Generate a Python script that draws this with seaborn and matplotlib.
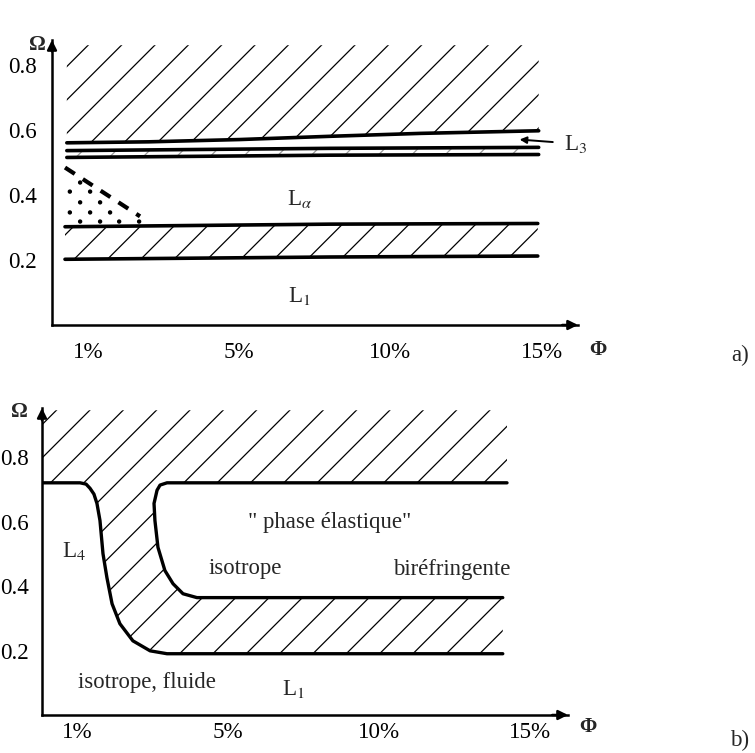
import numpy as np
import matplotlib
matplotlib.use("Agg")
import matplotlib.pyplot as plt
import seaborn as sns

# ---------- panel a) ----------
phi_l1 = [-0.70, 2.0, 5.0, 8.0, 11.0, 14.9]
omega_l1 = [0.560, 0.563, 0.570, 0.580, 0.589, 0.597]
phi_l23 = [-0.70, 8.0, 14.9]
omega_l2 = [0.536, 0.543, 0.546]
omega_l3 = [0.515, 0.522, 0.524]
phi_band = [-0.76, 8.0, 14.87]
omega_band_hi = [0.302, 0.310, 0.312]
omega_band_lo = [0.202, 0.209, 0.212]
omega_hatch_top_a = 0.86
phi_dash = [-0.76, 1.72]
omega_dash = [0.484, 0.334]
dot_phi = [-0.26, -0.60, 0.07, -0.26, 0.40, -0.60, 0.07, 0.73, -0.26, 0.40, 1.03, 1.69]
dot_omega = [0.438, 0.410, 0.410, 0.377, 0.377, 0.346, 0.346, 0.346, 0.318, 0.318, 0.318, 0.318]

# ---------- panel b) ----------
left_phi = [-1.16, 0.10, 0.30, 0.43, 0.56, 0.66, 0.76, 0.86, 0.99, 1.16, 1.42, 1.85, 2.42, 2.98, 14.1]
left_omega = [0.72, 0.72, 0.716, 0.703, 0.685, 0.656, 0.603, 0.50, 0.426, 0.345, 0.283, 0.23, 0.199, 0.19, 0.19]
right_phi = [14.24, 2.98, 2.75, 2.65, 2.55, 2.58, 2.68, 2.91, 3.18, 3.51, 3.97, 14.1]
right_omega = [0.72, 0.72, 0.713, 0.697, 0.656, 0.603, 0.52, 0.448, 0.407, 0.376, 0.364, 0.364]
omega_hatch_top_b = 0.945

tick_pos = [0, 5, 10, 15]
tick_lab = ["1%", "5%", "10%", "15%"]
omega_ticks = [0.2, 0.4, 0.6, 0.8]

sns.set_theme(style="white")
plt.rcParams["font.family"] = ["Liberation Serif", "DejaVu Serif"]
plt.rcParams["mathtext.fontset"] = "stix"
plt.rcParams["hatch.linewidth"] = 0.45

W, H = 755, 753
fig = plt.figure(figsize=(W / 200, H / 200), dpi=200)


def px_axes(x0, x1, y_top, y_bot):
    return fig.add_axes([x0 / W, 1 - y_bot / H, (x1 - x0) / W, (y_bot - y_top) / H])


def style_axes(ax, xlim, ylim, xpad, ypad):
    ax.set_xlim(*xlim)
    ax.set_ylim(*ylim)
    sns.despine(ax=ax)
    for s in ("left", "bottom"):
        ax.spines[s].set_color("black")
        ax.spines[s].set_linewidth(0.9)
    ax.set_xticks(tick_pos)
    ax.set_xticklabels(tick_lab)
    ax.set_yticks(omega_ticks)
    ax.set_yticklabels([f"{v:.1f}" for v in omega_ticks])
    ax.tick_params(direction="in", length=3, width=0.9, colors="black", labelsize=8.3)
    ax.tick_params(axis="x", pad=xpad)
    ax.tick_params(axis="y", pad=ypad)
    ax.set_facecolor("white")
    for xy, xyt in (((1, 0), (0.97, 0)), ((0, 1), (0, 0.96))):
        ax.annotate("", xy=xy, xytext=xyt, xycoords="axes fraction",
                    arrowprops=dict(arrowstyle="-|>", color="black", lw=0.9,
                                    mutation_scale=7, shrinkA=0, shrinkB=0))


def line(ax, x, y, lw=1.3, **kw):
    sns.lineplot(x=x, y=y, ax=ax, color="black", lw=lw, sort=False,
                 estimator=None, legend=False, **kw)


# ----- a) -----
ax = px_axes(52, 578, 40, 325)
style_axes(ax, (-1.19, 16.2), (0, 0.876), xpad=6, ypad=5.3)

ax.fill(np.r_[phi_l1, phi_l1[::-1]],
        np.r_[omega_l1, [omega_hatch_top_a] * len(phi_l1)],
        facecolor="none", edgecolor="black", hatch="//", lw=0)
ax.fill(np.r_[phi_l23, phi_l23[::-1]], np.r_[omega_l3, omega_l2[::-1]],
        facecolor="none", edgecolor="0.6", hatch="//", lw=0)
ax.fill(np.r_[phi_band, phi_band[::-1]], np.r_[omega_band_lo, omega_band_hi[::-1]],
        facecolor="none", edgecolor="black", hatch="//", lw=0)

line(ax, phi_l1, omega_l1)
line(ax, phi_l23, omega_l2)
line(ax, phi_l23, omega_l3)
line(ax, phi_band, omega_band_hi)
line(ax, phi_band, omega_band_lo)
line(ax, phi_dash, omega_dash, lw=1.5, dashes=(2.8, 2.3))
sns.scatterplot(x=dot_phi, y=dot_omega, ax=ax, color="black", s=2.5,
                edgecolor="none", legend=False)

ax.text(7.0, 0.386, r"L$_{\alpha}$", fontsize=8.3, ha="center", va="center")
ax.text(7.0, 0.089, r"L$_{1}$", fontsize=8.3, ha="center", va="center")
ax.annotate(r"L$_{3}$", xy=(14.27, 0.570), xytext=(15.75, 0.557),
            fontsize=8.3, va="center", ha="left", annotation_clip=False,
            arrowprops=dict(arrowstyle="-|>", color="black", lw=0.7,
                            mutation_scale=5, shrinkA=2, shrinkB=0))

# ----- b) -----
bx = px_axes(42, 568, 408, 715)
style_axes(bx, (-1.16, 16.26), (0, 0.952), xpad=2.5, ypad=4.7)

bx.fill([-1.16, 14.24] + right_phi + left_phi[::-1],
        [omega_hatch_top_b] * 2 + right_omega + left_omega[::-1],
        facecolor="none", edgecolor="black", hatch="//", lw=0)
line(bx, left_phi, left_omega, lw=1.2)
line(bx, right_phi, right_omega, lw=1.2)

bx.text(-0.1, 0.51, r"L$_{4}$", fontsize=8.3, ha="center", va="center")
bx.text(8.35, 0.597, "\" phase élastique\"", fontsize=8.2, ha="center", va="center")
bx.text(5.56, 0.454, "isotrope", fontsize=8.2, ha="center", va="center")
bx.text(12.4, 0.451, "biréfringente", fontsize=8.2, ha="center", va="center")
bx.text(2.33, 0.100, "isotrope, fluide", fontsize=8.2, ha="center", va="center")
bx.text(7.15, 0.080, r"L$_{1}$", fontsize=8.3, ha="center", va="center")

# axis symbols and panel letters
fig.text(37 / W, 1 - 45 / H, "Ω", fontsize=7.5, ha="center", va="center", weight="bold")
fig.text(598 / W, 1 - 350 / H, "Φ", fontsize=7.5, ha="center", va="center", weight="bold")
fig.text(19 / W, 1 - 412 / H, "Ω", fontsize=7.5, ha="center", va="center", weight="bold")
fig.text(588 / W, 1 - 727 / H, "Φ", fontsize=7.5, ha="center", va="center", weight="bold")
fig.text(740 / W, 1 - 355 / H, "a)", fontsize=8.3, ha="center", va="center")
fig.text(740 / W, 1 - 740 / H, "b)", fontsize=8.3, ha="center", va="center")

fig.savefig("out.png", dpi=200, facecolor="white")
